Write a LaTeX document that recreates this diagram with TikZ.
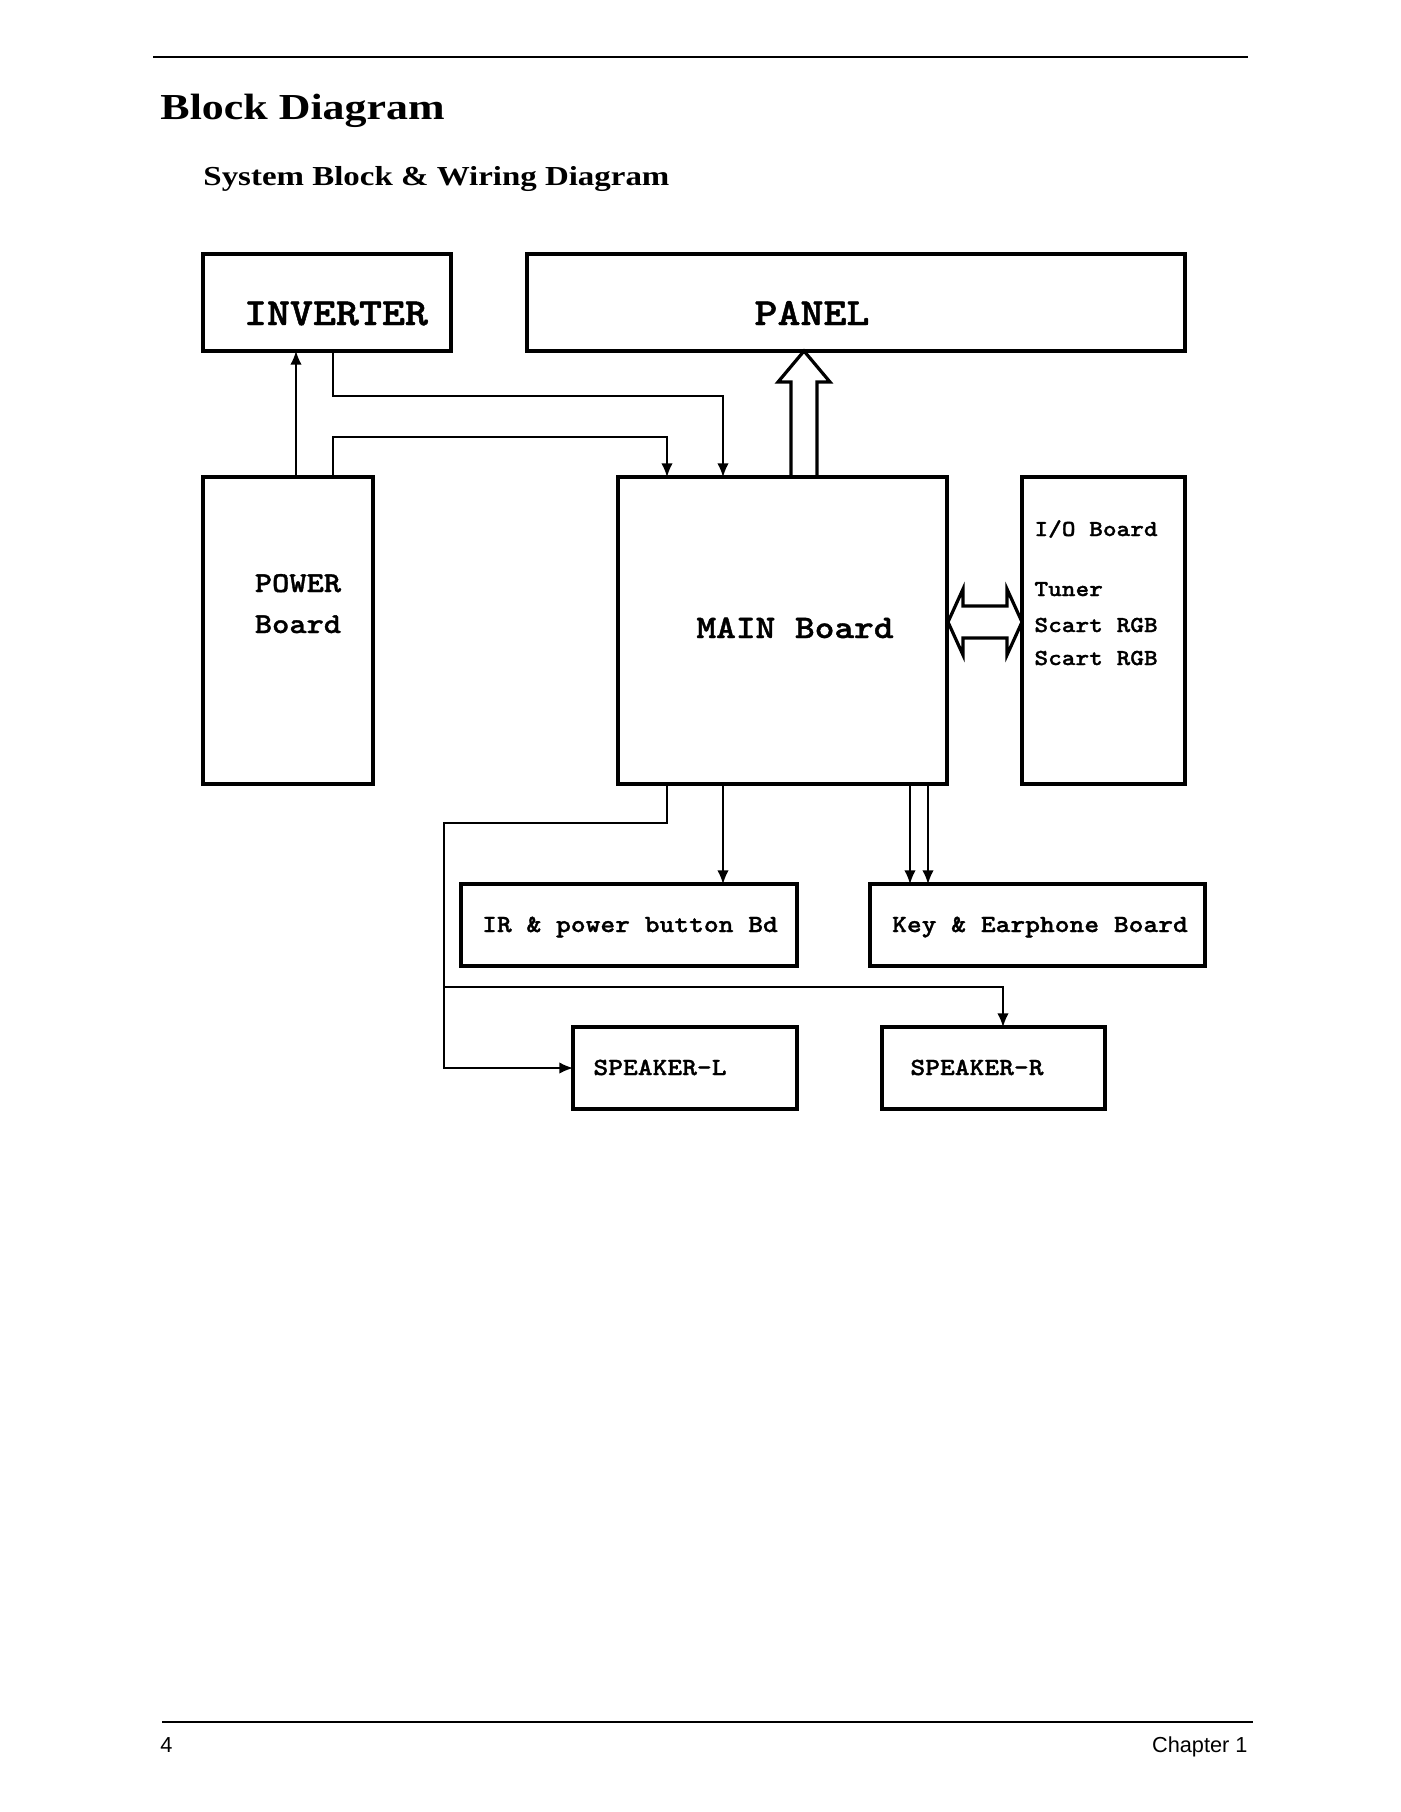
\documentclass[tikz,border=0pt]{standalone}
\usepackage{fontspec}
\setmainfont{Liberation Serif}
\newfontfamily\monofont[FakeStretch=1.14,FakeBold=1.2]{lmmonolt10-bold.otf}
\newfontfamily\headfont[FakeStretch=1.2]{Liberation Serif}
\newfontfamily\footfont{Liberation Sans}
\usetikzlibrary{positioning,fit,arrows.meta}

\tikzset{
  blk/.style={draw,line width=1.6pt,inner sep=0pt,outer sep=0pt},
  txt/.style={inner sep=0pt,anchor=base},
  huge/.style={txt,font=\monofont\fontsize{16.8}{20}\selectfont},
  large/.style={txt,font=\monofont\fontsize{14.4}{17}\selectfont},
  mid/.style={txt,font=\monofont\fontsize{12.6}{15}\selectfont},
  small/.style={txt,font=\monofont\fontsize{10.8}{13}\selectfont},
  tiny/.style={txt,anchor=base west,font=\monofont\fontsize{10}{12}\selectfont},
  wire/.style={line width=0.7pt},
  fat/.style={line width=1.4pt,line join=miter}
}

\begin{document}
\begin{tikzpicture}[x=0.4372pt,y=-0.4372pt,>={Latex[length=6pt,width=5pt]}]
	\useasboundingbox (0,0) rectangle (1400,1812);
	\fill[white] (0,0) rectangle (1400,1812);

	% page head and foot
	\draw[line width=0.5pt] (153,57) -- (1248,57);
	\draw[line width=0.5pt] (162,1722) -- (1253,1722);
	\node[txt,anchor=base west,font=\headfont\bfseries\fontsize{16}{19}\selectfont] (title) at (160,119) {Block Diagram};
	\node[txt,anchor=base west,font=\headfont\bfseries\fontsize{12}{14}\selectfont] (subtitle) at (203,185) {System Block \& Wiring Diagram};
	\node[txt,anchor=base west,font=\footfont\fontsize{9.5}{11}\selectfont] (page) at (160,1752) {4};
	\node[txt,anchor=base east,font=\footfont\fontsize{9.5}{11}\selectfont] (chapter) at (1248,1752) {Chapter 1};

	% blocks
	\node[blk,fit={(203,254) (451,351)}] (inv) {};
	\node[blk,fit={(527,254) (1185,351)}] (panel) {};
	\node[blk,fit={(203,477) (373,784)}] (pwr) {};
	\node[blk,fit={(618,477) (947,784)}] (main) {};
	\node[blk,fit={(1022,477) (1185,784)}] (io) {};
	\node[blk,fit={(461,884) (797,966)}] (ir) {};
	\node[blk,fit={(870,884) (1205,966)}] (key) {};
	\node[blk,fit={(573,1027) (797,1109)}] (spkL) {};
	\node[blk,fit={(882,1027) (1105,1109)}] (spkR) {};

	% labels
	\node[huge] (inv-t) at (336,325) {INVERTER};
	\node[huge] (panel-t) at (812,325) {PANEL};
	\node[mid] (pwr-t1) at (298,592) {POWER};
	\node[mid] (pwr-t2) at (298,633) {Board};
	\node[large] (main-t) at (795,638) {MAIN Board};
	\node[tiny] (io-t1) at (1034,536) {I/O Board};
	\node[tiny] (io-t2) at (1034,596) {Tuner};
	\node[tiny] (io-t3) at (1034,632) {Scart RGB};
	\node[tiny] (io-t4) at (1034,665) {Scart RGB};
	\node[small] (ir-t) at (630,932) {IR \& power button Bd};
	\node[small] (key-t) at (1040,932) {Key \& Earphone Board};
	\node[small] (spkL-t) at (660,1075) {SPEAKER-L};
	\node[small] (spkR-t) at (977,1075) {SPEAKER-R};

	% bends and columns
	\coordinate (v1) at (296,0);
	\coordinate (b1) at (333,396);
	\coordinate (b2) at (723,396);
	\coordinate (b3) at (333,437);
	\coordinate (b4) at (667,437);
	\coordinate (b5) at (667,823);
	\coordinate (b6) at (444,823);
	\coordinate (b8) at (444,987);
	\coordinate (b9) at (1003,987);
	\coordinate (k1) at (910,0);
	\coordinate (k2) at (928,0);
	\coordinate (tipP) at (804,351);
	\coordinate (tipL) at (948,622);

	% wiring
	\draw[wire,->] (pwr.north -| v1) -- (inv.south -| v1);
	\draw[wire,->] (inv.south -| b1) -- (b1) -- (b2) -- (main.north -| b2);
	\draw[wire,->] (pwr.north -| b3) -- (b3) -- (b4) -- (main.north -| b4);
	\draw[wire,->] (main.south -| b2) -- (ir.north -| b2);
	\foreach \k in {k1,k2}
		\draw[wire,->] (main.south -| \k) -- (key.north -| \k);
	\draw[wire,->] (main.south -| b5) -- (b5) -- (b6) |- (spkL.west);
	\draw[wire,->] (b8) -- (b9) -- (spkR.north -| b9);

	% bus arrows
	\draw[fat] (tipP) -- ++(26,31) -- ++(-13,0) -- ++(0,95) -- ++(-26,0) -- ++(0,-95) -- ++(-13,0) -- cycle;
	\draw[fat] (tipL) -- ++(15,-33) -- ++(0,17) -- ++(44,0) -- ++(0,-17) -- ++(15,33)
		-- ++(-15,33) -- ++(0,-17) -- ++(-44,0) -- ++(0,17) -- cycle;

\end{tikzpicture}
\end{document}
